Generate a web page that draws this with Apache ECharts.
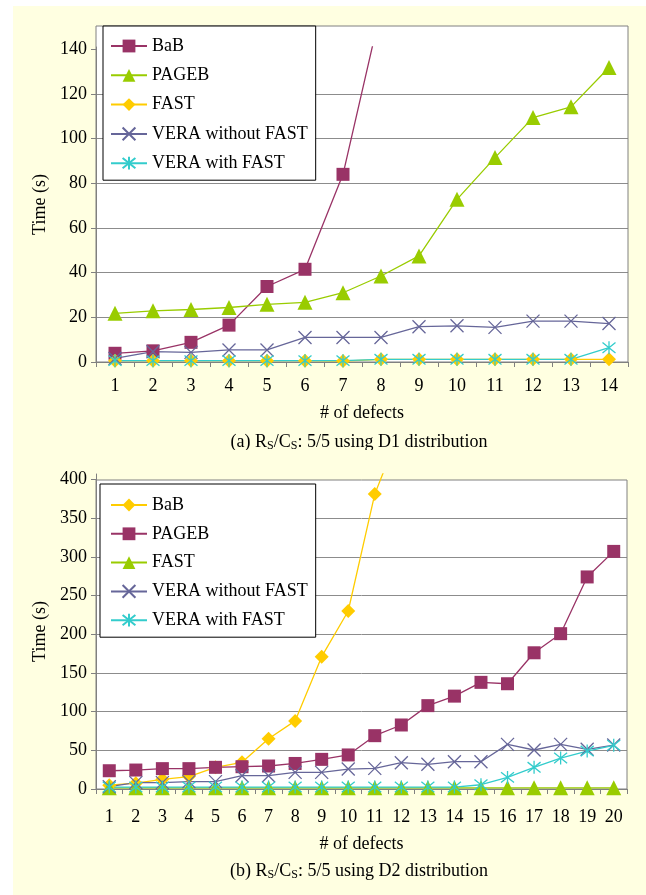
<!DOCTYPE html>
<html>
<head>
<meta charset="utf-8">
<script src="https://cdn.jsdelivr.net/npm/echarts@6/dist/echarts.min.js"></script>
<style>
  html, body { margin: 0; padding: 0; background: #fff; }
  #bg { position: absolute; left: 13px; top: 6px; width: 633px; height: 889px; background: #ffffe1; }
  .chart { position: absolute; left: 0; width: 646px; }
  #chartA { top: 0; height: 450px; }
  #chartB { top: 450px; height: 445px; }
</style>
</head>
<body>
<div id="bg"></div>
<div id="chartA" class="chart"></div>
<div id="chartB" class="chart"></div>
<script>
// (a) D1 distribution, 1..14 defects
const defectsA = [1, 2, 3, 4, 5, 6, 7, 8, 9, 10, 11, 12, 13, 14]
const babA = [3.9, 5.0, 8.8, 16.5, 33.8, 41.5, 84, 158]  // 8th point runs off the top
const pagebA = [21.8, 22.9, 23.5, 24.4, 25.8, 26.7, 31, 38.5, 47.5, 72.8, 91.5, 109.4, 114.2, 131.8]
const fastA = [0.6, 0.6, 0.6, 0.6, 0.6, 0.6, 0.4, 1.2, 1.2, 1.2, 1.2, 1.2, 1.2, 1.2]
const veraNoFastA = [1.6, 4.6, 4.3, 5.4, 5.4, 11, 11, 11, 15.8, 16.2, 15.5, 18.3, 18.3, 17.2]
const veraFastA = [0.6, 0.6, 0.6, 0.6, 0.6, 0.6, 0.6, 1.2, 1.2, 1.2, 1.2, 1.2, 1.2, 6.4]
const yTicksA = [0, 20, 40, 60, 80, 100, 120, 140]

// (b) D2 distribution, 1..20 defects
const defectsB = [1, 2, 3, 4, 5, 6, 7, 8, 9, 10, 11, 12, 13, 14, 15, 16, 17, 18, 19, 20]
const babB = [5, 7.5, 12.5, 16, 28, 34.5, 65, 88, 171, 230, 381, 468]  // 12th runs off the top
const pagebB = [23.6, 24.5, 26.3, 26.3, 28, 28.8, 29.7, 33, 38.3, 44, 68.9, 82.7, 107.7, 120, 137.8, 136, 176, 200.7, 274, 307]
const fastB = [1.5, 1.5, 1.5, 1.5, 1.5, 1.5, 1.5, 1.5, 1.5, 1.5, 1.5, 1.5, 1.5, 1.5, 1.5, 1.5, 1.5, 1.5, 1.5, 1.5]
const veraNoFastB = [3, 8.2, 8.2, 9.5, 9.5, 17.2, 17.2, 21.5, 21.5, 25.8, 26.7, 34, 31.9, 35.3, 35.3, 57.7, 50.4, 57.7, 51.3, 56.8]
const veraFastB = [2.5, 2.5, 2.5, 2.5, 2.5, 2.5, 2.5, 2.5, 2.5, 2.5, 2.5, 2.5, 2.5, 2.5, 5.5, 15, 28, 40, 49, 56.5]
const yTicksB = [0, 50, 100, 150, 200, 250, 300, 350, 400]

const FONT = 'Liberation Serif'
const GRAY = '#808080'
const crossSym = 'path://M0,0L10,10M10,0L0,10'
const starSym = 'path://M0,1L10,9M10,1L0,9M5,0L5,10'

function line(name, data, color, symbol, size) {
  const stroked = symbol.startsWith('path://')
  return {
    type: 'line',
    name,
    data,
    symbol,
    symbolSize: size,
    lineStyle: { color, width: 1.3 },
    itemStyle: stroked
      ? { color: 'none', borderColor: color, borderWidth: 1.3 }
      : { color, borderWidth: 0 },
    emphasis: { disabled: true }
  }
}

function buildOption(cfg) {
  const text = { fontFamily: FONT, fontSize: 18, color: '#000' }
  return {
    animation: false,
    backgroundColor: 'transparent',
    textStyle: { fontFamily: FONT },
    grid: {
      left: 96, right: cfg.gridRight, top: cfg.gridTop, bottom: cfg.gridBottom,
      outerBoundsMode: 'none'
    },
    legend: {
      orient: 'vertical',
      left: cfg.legendLeft,
      top: cfg.legendTop,
      padding: cfg.legendPadding,
      itemWidth: 36,
      itemHeight: 16,
      itemGap: cfg.legendGap,
      backgroundColor: '#fff',
      borderColor: '#000',
      borderWidth: 1,
      borderRadius: 0,
      selectedMode: false,
      textStyle: { ...text, padding: [0, 0, 0, 0] }
    },
    xAxis: {
      type: 'category',
      data: cfg.categories,
      boundaryGap: true,
      name: '# of defects',
      nameLocation: 'middle',
      nameGap: cfg.xNameGap,
      nameTextStyle: text,
      axisLine: { lineStyle: { color: GRAY, width: 1 } },
      axisTick: { show: true, length: 5, lineStyle: { color: GRAY } },
      axisLabel: { ...text, interval: 0, margin: cfg.xLabelMargin },
      splitLine: { show: false }
    },
    yAxis: {
      type: 'value',
      min: 0,
      max: cfg.yMax,
      interval: cfg.yInterval,
      name: 'Time (s)',
      nameLocation: 'middle',
      nameGap: 43,
      nameTextStyle: text,
      axisLine: { show: true, lineStyle: { color: GRAY, width: 1 } },
      axisTick: { show: true, length: 5, lineStyle: { color: GRAY }, customValues: cfg.yTicks },
      axisLabel: {
        ...text, margin: 9,
        customValues: cfg.yTicks,
        formatter: v => (cfg.yTicks.includes(v) ? String(v) : '')
      },
      splitLine: { show: true, showMaxLine: false, lineStyle: { color: '#8c8c8c', width: 1 } }
    },
    graphic: [
      {
        type: 'rect', z: -10, silent: true,
        shape: cfg.frame,
        style: { fill: '#fff', stroke: null }
      },
      {
        type: 'rect', z: 1, silent: true,
        shape: cfg.frame,
        style: { fill: null, stroke: GRAY, lineWidth: 1 }
      },
      {
        type: 'text', silent: true,
        x: 359, y: cfg.captionY,
        style: {
          text: cfg.caption,
          align: 'center',
          verticalAlign: 'middle',
          fontFamily: FONT, fontSize: 18, fill: '#000',
          rich: {
            t: { fontFamily: FONT, fontSize: 18, fill: '#000' },
            s: { fontFamily: FONT, fontSize: 12, fill: '#000', verticalAlign: 'bottom', padding: [8, 0, 0, 0] }
          }
        }
      }
    ],
    series: cfg.series
  }
}

const optionA = buildOption({
  categories: defectsA,
  gridRight: 18, gridTop: 47, gridBottom: 88,
  frame: { x: 96, y: 26, width: 532, height: 336 },
  yMax: 141, yInterval: 20, yTicks: yTicksA,
  xLabelMargin: 15, xNameGap: 42,
  legendLeft: 103, legendTop: 26, legendPadding: [11, 8, 8, 7], legendGap: 11.3,
  captionY: 442,
  caption: '{t|(a) R}{s|S}{t|/C}{s|S}{t|: 5/5 using D1 distribution}',
  series: [
    line('BaB', babA, '#993366', 'rect', 13),
    line('PAGEB', pagebA, '#99cc00', 'triangle', 15),
    line('FAST', fastA, '#ffcc00', 'diamond', 14),
    line('VERA without FAST', veraNoFastA, '#666699', crossSym, 13),
    line('VERA with FAST', veraFastA, '#33cccc', starSym, 13)
  ]
})

const optionB = buildOption({
  categories: defectsB,
  gridRight: 19, gridTop: 24, gridBottom: 106,
  frame: { x: 96, y: 30, width: 531, height: 309 },
  yMax: 407, yInterval: 50, yTicks: yTicksB,
  xLabelMargin: 19, xNameGap: 46,
  legendLeft: 100, legendTop: 34, legendPadding: [12, 8, 8, 10], legendGap: 10.8,
  captionY: 421,
  caption: '{t|(b) R}{s|S}{t|/C}{s|S}{t|: 5/5 using D2 distribution}',
  series: [
    line('BaB', babB, '#ffcc00', 'diamond', 14),
    line('PAGEB', pagebB, '#993366', 'rect', 13),
    line('FAST', fastB, '#99cc00', 'triangle', 15),
    line('VERA without FAST', veraNoFastB, '#666699', crossSym, 13),
    line('VERA with FAST', veraFastB, '#33cccc', starSym, 13)
  ]
})

echarts.init(document.getElementById('chartA'), null, { renderer: 'canvas' }).setOption(optionA)
echarts.init(document.getElementById('chartB'), null, { renderer: 'canvas' }).setOption(optionB)
</script>
</body>
</html>
